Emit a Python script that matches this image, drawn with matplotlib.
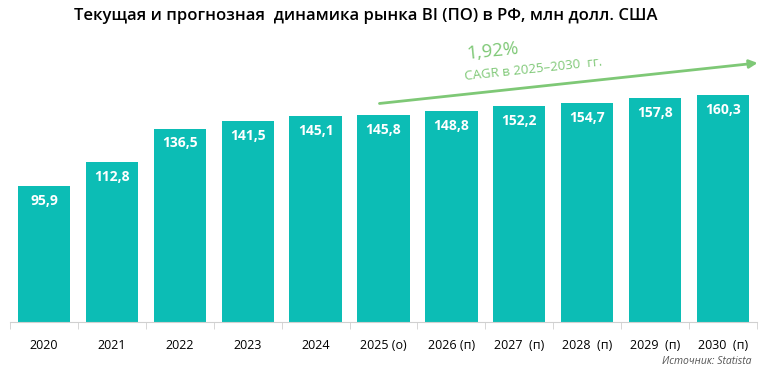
import numpy as np
import matplotlib.pyplot as plt

plt.rcParams['font.family'] = ['Open Sans', 'DejaVu Sans']

years = ["2020", "2021", "2022", "2023", "2024", "2025 (о)", "2026 (п)",
         "2027  (п)", "2028  (п)", "2029  (п)", "2030  (п)"]
values = [95.9, 112.8, 136.5, 141.5, 145.1, 145.8, 148.8, 152.2, 154.7, 157.8, 160.3]
cagr_text = "1,92%"
cagr_label = "CAGR в 2025–2030  гг."

W, H = 761, 371
fig = plt.figure(figsize=(W / 100, H / 100), dpi=100)
ax = fig.add_axes([10 / W, 49 / H, 747 / W, 282 / H])

x = np.arange(len(values))
bar_color = "#0cbdb5"
ax.bar(x, values, width=0.77, color=bar_color)
for xi, v in zip(x, values):
    ax.text(xi, v - 10.5, f"{v:.1f}".replace(".", ","), ha="center", va="center",
            color="white", fontsize=10, fontweight="bold")

ax.set_xlim(-0.5, len(values) - 0.5)
ax.set_ylim(0, 199)
ax.set_yticks([])
for s in ["top", "right", "left"]:
    ax.spines[s].set_visible(False)
ax.spines["bottom"].set_color("#d0d0d0")
ax.set_xticks(x)
ax.set_xticklabels(years, fontsize=9)
ax.tick_params(axis="x", which="major", length=0, pad=12)
ax.set_xticks(np.arange(len(values) + 1) - 0.5, minor=True)
ax.tick_params(axis="x", which="minor", length=5, color="#d0d0d0")

# стрелка CAGR
green = "#7ec876"
ax.annotate("", xy=(10.55, 183), xytext=(4.9, 154), annotation_clip=False,
            arrowprops=dict(arrowstyle="-|>", color=green, lw=2, mutation_scale=12))
ax.text(6.6, 191, cagr_text, color=green, fontsize=13.5, rotation=6,
        ha="center", va="center")
ax.text(7.2, 178, cagr_label, color=green, fontsize=9.5, rotation=6,
        ha="center", va="center")

fig.text(0.48, 1 - 16 / H, "Текущая и прогнозная  динамика рынка BI (ПО) в РФ, млн долл. США",
         ha="center", va="center", fontsize=12, fontweight="semibold")
fig.text(752 / W, 1 - 362 / H, "Источник: Statista", ha="right", va="center",
         fontsize=7.5, style="italic", color="#555555")

fig.savefig("out.png", dpi=100)
